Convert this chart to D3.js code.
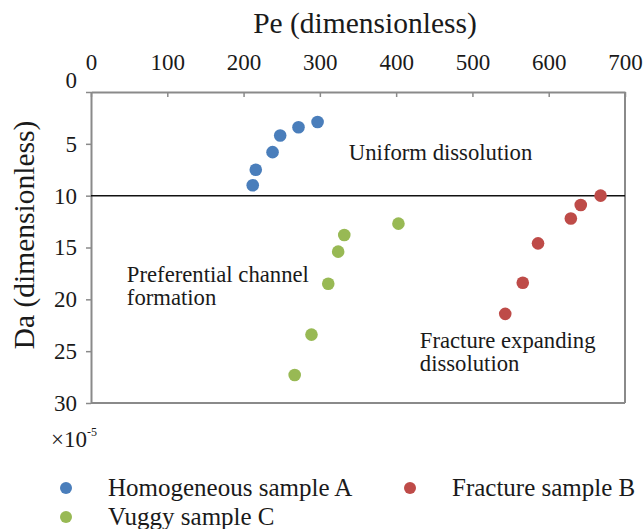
<!DOCTYPE html>
<html>
<head>
<meta charset="utf-8">
<script src="https://cdn.jsdelivr.net/npm/d3@7/dist/d3.min.js"></script>
<style>
  html, body { margin: 0; padding: 0; background: #fff; }
  svg { display: block; }
  svg text { font-family: "Liberation Serif", "Times New Roman", serif; }
</style>
</head>
<body>
<svg id="chart" width="644" height="529"></svg>
<script>
// ---- data ----
const seriesNames = ["Homogeneous sample A", "Fracture sample B", "Vuggy sample C"];
const sampleA_pe = [297, 272, 248, 238, 216, 212];
const sampleA_da = [2.9, 3.4, 4.2, 5.8, 7.5, 9.0];
const sampleB_pe = [668, 642, 629, 586, 566, 543];
const sampleB_da = [10.0, 10.9, 12.2, 14.6, 18.4, 21.4];
const sampleC_pe = [403, 332, 324, 311, 289, 267];
const sampleC_da = [12.7, 13.8, 15.4, 18.5, 23.4, 27.3];
const xTicks = [0, 100, 200, 300, 400, 500, 600, 700];
const yTicks = [0, 5, 10, 15, 20, 25, 30];
const thresholdDa = 10;
const regionLabels = [
  { lines: ["Uniform dissolution"], pe: 338, da: 6.6 },
  { lines: ["Preferential channel", "formation"], pe: 47, da: 18.3 },
  { lines: ["Fracture expanding", "dissolution"], pe: 431, da: 24.7 }
];

const colors = ["#4A7EBB", "#BE4B48", "#98B954"];
const svg = d3.select("#chart");
const serif = '"Liberation Serif", "Times New Roman", serif';

const x = d3.scaleLinear().domain([0, 700]).range([91, 625]);
const y = d3.scaleLinear().domain([0, 30]).range([92, 403]);

// frame (right & bottom)
const frame = svg.append("g").attr("stroke", "#8a8a8a").attr("stroke-width", 2).attr("fill", "none");
frame.append("line").attr("x1", x(700)).attr("x2", x(700)).attr("y1", y(0)).attr("y2", y(30));
frame.append("line").attr("x1", x(0)).attr("x2", x(700)).attr("y1", y(30)).attr("y2", y(30));

// top axis
const gx = svg.append("g").attr("transform", `translate(0,${y(0)})`)
  .call(d3.axisTop(x).tickValues(xTicks).tickSizeInner(-5).tickSizeOuter(0).tickPadding(22));
gx.style("font-family", serif).attr("font-family", null).attr("font-size", null);
gx.select(".domain").attr("stroke", "#8a8a8a").attr("stroke-width", 2);
gx.selectAll(".tick line").attr("stroke", "#8a8a8a").attr("stroke-width", 1.5);
gx.selectAll(".tick text").style("font-family", serif).style("font-size", "23px").attr("fill", "#1a1a1a");

// left axis
const gy = svg.append("g").attr("transform", `translate(${x(0)},0)`)
  .call(d3.axisLeft(y).tickValues(yTicks).tickSizeInner(5).tickSizeOuter(0).tickPadding(9));
gy.style("font-family", serif).attr("font-family", null).attr("font-size", null);
gy.select(".domain").attr("stroke", "#8a8a8a").attr("stroke-width", 2);
gy.selectAll(".tick line").attr("stroke", "#8a8a8a").attr("stroke-width", 1.5);
gy.selectAll(".tick text").style("font-family", serif).style("font-size", "23px").attr("fill", "#1a1a1a")
  .attr("dy", d => d === 0 ? "-0.18em" : "0.32em");

// threshold line
svg.append("line")
  .attr("x1", x(0)).attr("x2", x(700))
  .attr("y1", y(thresholdDa)).attr("y2", y(thresholdDa))
  .attr("stroke", "#111").attr("stroke-width", 1.5);

// axis titles
svg.append("text").attr("x", 365).attr("y", 33).attr("text-anchor", "middle")
  .style("font-size", "29.5px").attr("fill", "#1a1a1a").text("Pe (dimensionless)");
svg.append("text").attr("transform", "translate(34,235) rotate(-90)").attr("text-anchor", "middle")
  .style("font-size", "29.5px").attr("fill", "#1a1a1a").text("Da (dimensionless)");

// region annotations
regionLabels.forEach(r => {
  const t = svg.append("text").style("font-size", "22.7px").attr("fill", "#1a1a1a");
  r.lines.forEach((ln, i) => {
    t.append("tspan").attr("x", x(r.pe)).attr("y", y(r.da) + i * 23).text(ln);
  });
});

// multiplier
const mt = svg.append("text").attr("x", 51).attr("y", 447).style("font-size", "23px").attr("fill", "#1a1a1a");
mt.append("tspan").text("\u00D710");
mt.append("tspan").style("font-size", "12px").attr("dy", -11).text("-5");

// points
const series = [
  { pe: sampleA_pe, da: sampleA_da },
  { pe: sampleB_pe, da: sampleB_da },
  { pe: sampleC_pe, da: sampleC_da }
];
series.forEach((s, i) => {
  svg.append("g").selectAll("circle")
    .data(s.pe.map((p, j) => [p, s.da[j]]))
    .join("circle")
    .attr("cx", d => x(d[0])).attr("cy", d => y(d[1]))
    .attr("r", 6.3).attr("fill", colors[i]);
});

// legend
const legendPos = [[66, 488], [410, 488], [66, 517]];
seriesNames.forEach((name, i) => {
  const [lx, ly] = legendPos[i];
  svg.append("circle").attr("cx", lx).attr("cy", ly).attr("r", 6).attr("fill", colors[i]);
  svg.append("text").attr("x", lx + 42).attr("y", ly + 8).style("font-size", "25px")
    .attr("fill", "#1a1a1a").text(name);
});
</script>
</body>
</html>
